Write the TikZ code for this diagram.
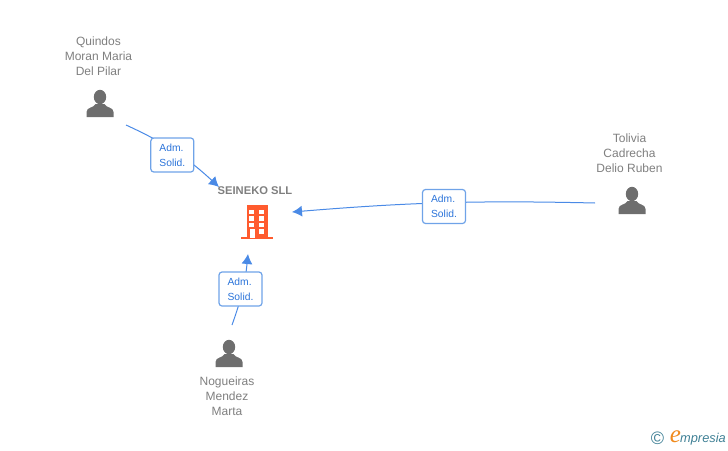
\documentclass[tikz,border=0pt]{standalone}
\usepackage{fontspec}
\setmainfont{Liberation Sans}
\newfontfamily\logoserif{Liberation Serif}
\usetikzlibrary{arrows.meta}
\definecolor{linkblue}{HTML}{4A8AE6}
\definecolor{boxblue}{HTML}{6FA3E8}
\definecolor{textblue}{HTML}{2B74DA}
\definecolor{namegray}{HTML}{7F7F7F}
\definecolor{icongray}{HTML}{6E6E6E}
\definecolor{firmorange}{HTML}{FF5B2E}
\definecolor{logoteal}{HTML}{3F8095}
\definecolor{logoorange}{HTML}{F08A1D}
\tikzset{
	namelabel/.style={text=namegray,align=center,font=\fontsize{12}{15}\selectfont,inner sep=0pt},
	rolebox/.style={draw=boxblue,line width=1.2pt,rounded corners=3pt,fill=white,text=textblue,
		align=left,font=\fontsize{10.3}{15}\selectfont,minimum width=43pt,minimum height=34pt,inner sep=0pt},
	link/.style={draw=linkblue,line width=1pt,-{Latex[length=10pt,width=11pt]}},
	person/.pic={
		\fill[icongray] (0,20) ellipse (6.2 and 7.2);
		\fill[icongray] (-13.5,0) -- (-13.5,5) .. controls (-13.5,10) and (-6,9) .. (-4.5,13)
			-- (4.5,13) .. controls (6,9) and (13.5,10) .. (13.5,5) -- (13.5,0) -- cycle;
	},
	firm/.pic={
		\fill[firmorange] (-16,-34) rectangle (16,-32);
		\fill[firmorange] (-10.5,-33) rectangle (11,0);
		\foreach \row in {-4.5,-11,-17.5}
			\foreach \col in {-7.7,2.3}
				\fill[white] (\col,\row) rectangle +(5,-4.5);
		\fill[white] (2.3,-24) rectangle +(5,-4.5);
		\fill[white] (-7.2,-24) rectangle (-2.5,-33);
	}
}
\begin{document}
\begin{tikzpicture}[x=1pt,y=1pt]
	\useasboundingbox (0,0) rectangle (728,-450);
	% people and firm
	\pic at (100,-117) {person};
	\pic at (632,-214) {person};
	\pic at (229,-367) {person};
	\pic at (257,-205) {firm};
	\node[namelabel] (quindos) at (98.5,-56) {Quindos\\Moran Maria\\Del Pilar};
	\node[namelabel] (tolivia) at (629.5,-153) {Tolivia\\Cadrecha\\Delio Ruben};
	\node[namelabel] (nogueiras) at (227,-396) {Nogueiras\\Mendez\\Marta};
	\node[text=namegray,font=\bfseries\fontsize{11.2}{15}\selectfont,inner sep=0pt] (seineko) at (255,-191) {SEINEKO SLL};
	% link ends
	\coordinate (quindosend) at (126,-125);
	\coordinate (toliviaend) at (595,-203);
	\coordinate (nogueirasend) at (232,-325);
	\coordinate (firmnw) at (219,-187);
	\coordinate (firme) at (292,-212);
	\coordinate (firms) at (248,-254);
	\draw[link] (quindosend) to[bend left=9] (firmnw);
	\draw[link] (toliviaend) to[bend right=3] (firme);
	\draw[link] (nogueirasend) to[bend right=7] (firms);
	\node[rolebox] (quindosrole) at (172.3,-155) {Adm.\\Solid.};
	\node[rolebox] (toliviarole) at (444,-206.5) {Adm.\\Solid.};
	\node[rolebox] (nogueirasrole) at (240.5,-289) {Adm.\\Solid.};
	% logo
	\node[text=logoteal,font=\fontsize{18}{18}\selectfont,inner sep=0pt] (copyright) at (657.5,-438.5) {©};
	\node[text=logoorange,font=\logoserif\itshape\fontsize{25}{25}\selectfont,inner sep=0pt] (logoe) at (675.5,-437) {e};
	\node[text=logoteal,font=\itshape\fontsize{12.8}{13}\selectfont,inner sep=0pt,anchor=west] (logotext) at (680,-439) {mpresia};
\end{tikzpicture}
\end{document}
